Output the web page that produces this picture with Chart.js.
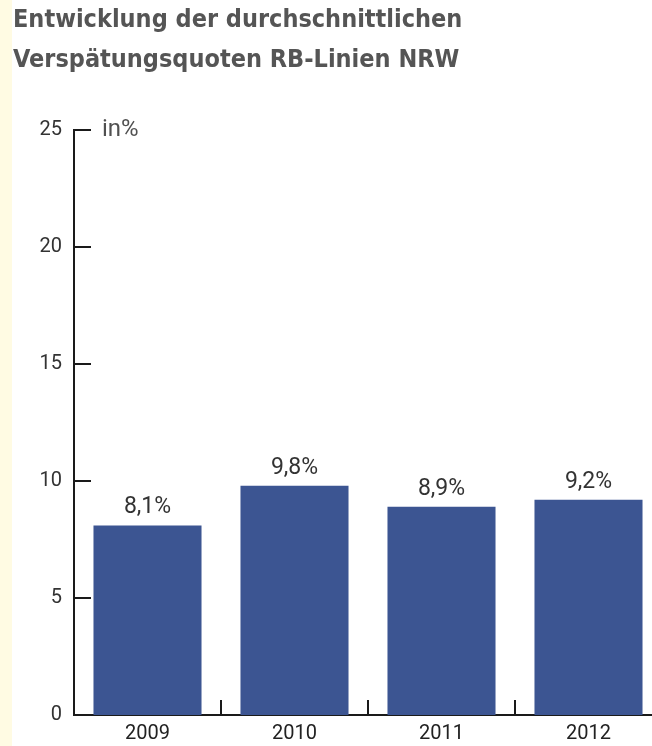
<!DOCTYPE html>
<html>
<head>
<meta charset="utf-8">
<script src="https://cdn.jsdelivr.net/npm/chart.js@4.4.1/dist/chart.umd.min.js"></script>
<style>
  html, body { margin: 0; padding: 0; width: 652px; height: 746px; overflow: hidden; }
  body { background: linear-gradient(to right, #fffbe3 0, #fffbe3 12px, #ffffff 12px); }
  #wrap { position: absolute; left: 0; top: 0; width: 662px; height: 746px; }
</style>
</head>
<body>
<div id="wrap"><canvas id="js--chart--1" width="662" height="746"></canvas></div>
<script>
const years = ['2009', '2010', '2011', '2012'];
const delayRates = [8.1, 9.8, 8.9, 9.2];
const yTicks = [0, 5, 10, 15, 20, 25];
const titleLines = ['Entwicklung der durchschnittlichen', 'Verspätungsquoten RB-Linien NRW'];
const unitLabel = 'in%';

const inwardTicks = {
    id: 'inwardTicks',
    afterDraw(chart) {
        const { ctx, chartArea } = chart;
        const x = chart.scales.x;
        const y = chart.scales.y;
        ctx.save();
        ctx.strokeStyle = '#1a1a1a';
        ctx.lineWidth = 2;
        ctx.beginPath();
        yTicks.forEach(v => {
            if (v === 0) return;
            const py = Math.round(y.getPixelForValue(v));
            ctx.moveTo(chartArea.left, py);
            ctx.lineTo(chartArea.left + 17, py);
        });
        for (let i = 1; i < years.length; i++) {
            const px = Math.round((x.getPixelForValue(i - 1) + x.getPixelForValue(i)) / 2);
            ctx.moveTo(px, chartArea.bottom);
            ctx.lineTo(px, chartArea.bottom - 15);
        }
        ctx.stroke();

        // unit label next to top tick
        ctx.fillStyle = '#505050';
        ctx.font = '24px Roboto';
        ctx.textAlign = 'left';
        ctx.textBaseline = 'middle';
        ctx.fillText(unitLabel, chartArea.left + 28, y.getPixelForValue(25));

        // value labels above bars
        ctx.fillStyle = '#333333';
        ctx.font = '23px Roboto';
        ctx.textAlign = 'center';
        ctx.textBaseline = 'alphabetic';
        chart.getDatasetMeta(0).data.forEach((bar, i) => {
            ctx.fillText(delayRates[i].toFixed(1).replace('.', ',') + '%', bar.x, bar.y - 12);
        });
        ctx.restore();
    }
};

const ctx = document.getElementById('js--chart--1');

new Chart(ctx, {
    type: 'bar',
    data: {
        labels: years,
        datasets: [{
            data: delayRates,
            backgroundColor: '#3c5592',
            borderWidth: 0,
            barPercentage: 0.735,
            categoryPercentage: 1
        }]
    },
    options: {
        responsive: false,
        animation: false,
        layout: { padding: { left: 13, right: 0, top: 0, bottom: 0 } },
        plugins: {
            legend: { display: false },
            tooltip: { enabled: false },
            title: {
                display: true,
                text: titleLines,
                align: 'start',
                color: '#555555',
                font: { family: "'DejaVu Sans Condensed', 'DejaVu Sans', Roboto", size: 25, weight: 'bold', lineHeight: 40 / 25 },
                padding: { top: 0, bottom: 50 }
            }
        },
        scales: {
            x: {
                grid: { display: false, drawTicks: false },
                border: { display: true, color: '#1a1a1a', width: 2 },
                ticks: { color: '#222222', font: { family: 'Roboto', size: 20 }, padding: 7 },
                afterFit(scale) { scale.height = 31; }
            },
            y: {
                min: 0,
                max: 25,
                grid: { display: false, drawTicks: false },
                border: { display: true, color: '#1a1a1a', width: 2 },
                ticks: {
                    stepSize: 5,
                    color: '#333333',
                    font: { family: 'Roboto', size: 20 },
                    padding: 12
                },
                afterFit(scale) { scale.width = 61; }
            }
        }
    },
    plugins: [inwardTicks]
});
</script>
</body>
</html>
